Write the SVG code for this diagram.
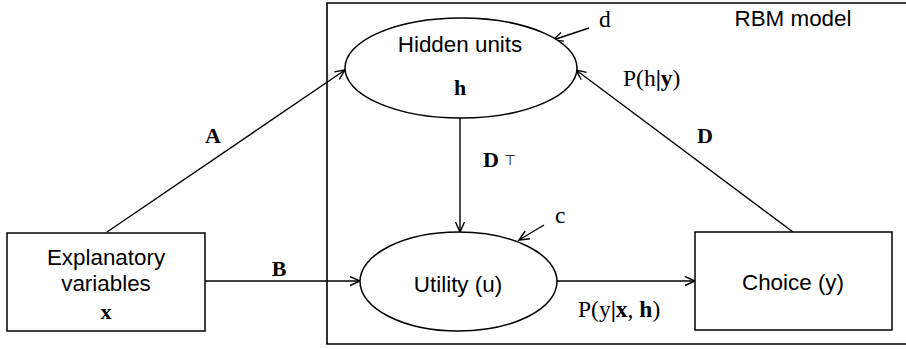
<svg xmlns="http://www.w3.org/2000/svg" width="906" height="349" viewBox="0 0 906 349">
<defs>
<marker id="arr" markerUnits="userSpaceOnUse" markerWidth="14" markerHeight="12" refX="11" refY="5" orient="auto">
<path d="M1,0.5 L11,5 L1,9.5" fill="none" stroke="#000" stroke-width="1.4"/>
</marker>
<style>
.sh{fill:#fff;stroke:#000;stroke-width:1.5}
.ln{fill:none;stroke:#000;stroke-width:1.4;marker-end:url(#arr)}
.sans{font-family:"Liberation Sans",Arial,sans-serif;font-size:22.4px;fill:#000}
.ser{font-family:"Liberation Serif","Times New Roman",serif;font-size:23.5px;fill:#000}
.bs{font-family:"Liberation Serif","Times New Roman",serif;font-size:22px;font-weight:bold;fill:#000}
</style>
</defs>
<rect width="906" height="349" fill="#fff"/>
<g id="rbm-box">
<path d="M906,3 L327,3 L327,344 L906,344" fill="none" stroke="#000" stroke-width="1.6"/>
<text class="sans" x="793" y="26" text-anchor="middle">RBM model</text>
</g>
<g id="connectors">
<line class="ln" x1="107" y1="232" x2="345" y2="70"/>
<line class="ln" x1="205" y1="281" x2="360" y2="281"/>
<line class="ln" x1="460" y1="118" x2="460" y2="232"/>
<line class="ln" x1="557" y1="281" x2="695" y2="281"/>
<line class="ln" x1="793" y1="232" x2="576" y2="70"/>
<line class="ln" x1="589" y1="28" x2="553" y2="40"/>
<line class="ln" x1="544" y1="225" x2="519" y2="240"/>
<text class="bs" x="213" y="143" text-anchor="middle">A</text>
<text class="bs" x="279" y="276" text-anchor="middle">B</text>
<text class="bs" x="705" y="143" text-anchor="middle">D</text>
<text class="bs" x="483" y="167">D</text>
<text x="504" y="165" font-family="DejaVu Sans,sans-serif" font-size="14" fill="#000">⊤</text>
<text class="ser" x="599" y="27">d</text>
<text class="ser" x="555" y="223">c</text>
<text class="ser" x="623" y="86">P(h<tspan font-weight="bold">|y</tspan>)</text>
<text class="ser" x="578" y="317">P(y<tspan font-weight="bold">|x</tspan>, <tspan font-weight="bold">h</tspan>)</text>
</g>
<g id="explanatory">
<rect class="sh" x="7" y="233" width="198" height="98"/>
<text class="sans" x="106" y="265" text-anchor="middle">Explanatory</text>
<text class="sans" x="106" y="291" text-anchor="middle">variables</text>
<text class="bs" x="106" y="319" text-anchor="middle">x</text>
</g>
<g id="hidden">
<ellipse class="sh" cx="461" cy="68" rx="116" ry="50"/>
<text class="sans" x="460" y="52" text-anchor="middle">Hidden units</text>
<text class="bs" x="460" y="95" text-anchor="middle">h</text>
</g>
<g id="utility">
<ellipse class="sh" cx="458.5" cy="281.5" rx="98.5" ry="49.5"/>
<text class="sans" x="458" y="292" text-anchor="middle">Utility (u)</text>
</g>
<g id="choice">
<rect class="sh" x="695" y="232" width="197" height="98"/>
<text class="sans" x="793" y="290" text-anchor="middle">Choice (y)</text>
</g>
</svg>
